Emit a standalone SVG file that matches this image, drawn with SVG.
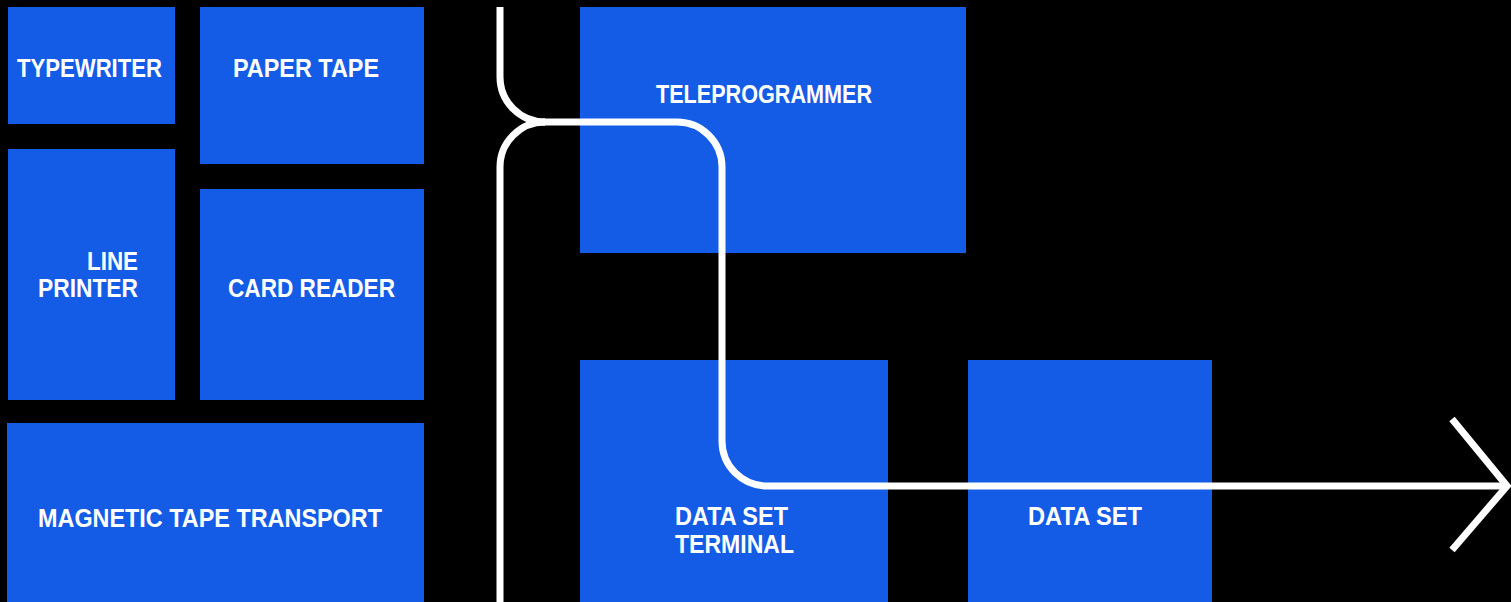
<svg xmlns="http://www.w3.org/2000/svg" width="1511" height="602" viewBox="0 0 1511 602">
  <style>
    .box { fill: #145ce6; }
    .lbl { fill: #ffffff; font-family: "Liberation Sans", Arial, sans-serif; font-weight: bold; font-size: 26px; }
    .wire { fill: none; stroke: #ffffff; stroke-width: 7; }
  </style>
  <rect x="0" y="0" width="1511" height="602" fill="#000000"/>
  <g id="typewriter">
    <rect class="box" x="8" y="7" width="167" height="117"/>
    <text class="lbl" x="17" y="77" textLength="145" lengthAdjust="spacingAndGlyphs">TYPEWRITER</text>
  </g>
  <g id="paper-tape">
    <rect class="box" x="200" y="7" width="224" height="157"/>
    <text class="lbl" x="233" y="77" textLength="146" lengthAdjust="spacingAndGlyphs">PAPER TAPE</text>
  </g>
  <g id="line-printer">
    <rect class="box" x="8" y="149" width="167" height="251"/>
    <text class="lbl" x="87" y="270" textLength="51" lengthAdjust="spacingAndGlyphs">LINE</text>
    <text class="lbl" x="38" y="297" textLength="100" lengthAdjust="spacingAndGlyphs">PRINTER</text>
  </g>
  <g id="card-reader">
    <rect class="box" x="200" y="189" width="224" height="211"/>
    <text class="lbl" x="228" y="297" textLength="167" lengthAdjust="spacingAndGlyphs">CARD READER</text>
  </g>
  <g id="magnetic-tape-transport">
    <rect class="box" x="7" y="423" width="417" height="179"/>
    <text class="lbl" x="38" y="527" textLength="344" lengthAdjust="spacingAndGlyphs">MAGNETIC TAPE TRANSPORT</text>
  </g>
  <g id="teleprogrammer">
    <rect class="box" x="580" y="7" width="386" height="246"/>
    <text class="lbl" x="656" y="103" textLength="216" lengthAdjust="spacingAndGlyphs">TELEPROGRAMMER</text>
  </g>
  <g id="data-set-terminal">
    <rect class="box" x="580" y="360" width="308" height="242"/>
    <text class="lbl" x="675" y="525" textLength="113" lengthAdjust="spacingAndGlyphs">DATA SET</text>
    <text class="lbl" x="675" y="553" textLength="119" lengthAdjust="spacingAndGlyphs">TERMINAL</text>
  </g>
  <g id="data-set">
    <rect class="box" x="968" y="360" width="244" height="242"/>
    <text class="lbl" x="1028" y="525" textLength="114" lengthAdjust="spacingAndGlyphs">DATA SET</text>
  </g>
  <g id="connectors">
    <path class="wire" d="M500,7 V77 A45,45 0 0 0 545,122"/>
    <path class="wire" d="M500,602 V167 A45,45 0 0 1 545,122"/>
    <path class="wire" d="M543,122 H677 A45,45 0 0 1 722,167 V441 A45,45 0 0 0 767,486 H1506"/>
    <polyline class="wire" points="1452,419 1507,486 1452,550" stroke-linejoin="miter"/>
  </g>
</svg>
